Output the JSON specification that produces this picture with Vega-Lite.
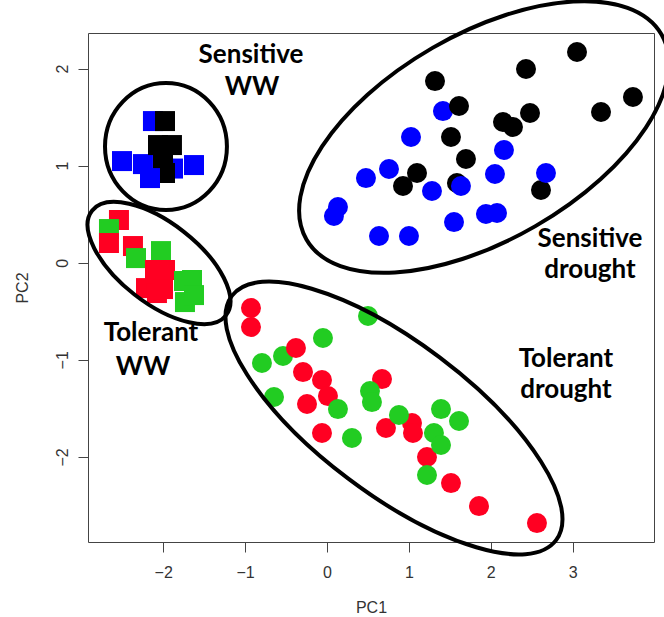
{
  "$schema": "https://vega.github.io/schema/vega-lite/v6.json",
  "width": 566,
  "height": 509,
  "autosize": {"type": "none"},
  "padding": {"left": 88, "top": 33, "right": 10, "bottom": 75},
  "background": "white",
  "config": {"view": {"stroke": "#444", "strokeWidth": 1}, "font": "Liberation Sans"},
  "datasets": {
    "pts": [
      {"pc1": -2.125, "pc2": 1.459, "geno": "S1", "trt": "WW"},
      {"pc1": -1.978, "pc2": 1.459, "geno": "S2", "trt": "WW"},
      {"pc1": -2.503, "pc2": 1.047, "geno": "S1", "trt": "WW"},
      {"pc1": -2.247, "pc2": 1.016, "geno": "S1", "trt": "WW"},
      {"pc1": -1.880, "pc2": 0.970, "geno": "S1", "trt": "WW"},
      {"pc1": -1.624, "pc2": 1.006, "geno": "S1", "trt": "WW"},
      {"pc1": -2.063, "pc2": 1.212, "geno": "S2", "trt": "WW"},
      {"pc1": -1.893, "pc2": 1.212, "geno": "S2", "trt": "WW"},
      {"pc1": -2.002, "pc2": 1.058, "geno": "S2", "trt": "WW"},
      {"pc1": -1.978, "pc2": 0.924, "geno": "S2", "trt": "WW"},
      {"pc1": -2.161, "pc2": 0.872, "geno": "S1", "trt": "WW"},

      {"pc1": -2.540, "pc2": 0.440, "geno": "T1", "trt": "WW"},
      {"pc1": -2.662, "pc2": 0.347, "geno": "T2", "trt": "WW"},
      {"pc1": -2.662, "pc2": 0.203, "geno": "T1", "trt": "WW"},
      {"pc1": -2.369, "pc2": 0.172, "geno": "T1", "trt": "WW"},
      {"pc1": -2.332, "pc2": 0.048, "geno": "T2", "trt": "WW"},
      {"pc1": -2.027, "pc2": 0.120, "geno": "T2", "trt": "WW"},
      {"pc1": -2.100, "pc2": -0.075, "geno": "T1", "trt": "WW"},
      {"pc1": -1.978, "pc2": -0.075, "geno": "T1", "trt": "WW"},
      {"pc1": -2.210, "pc2": -0.261, "geno": "T1", "trt": "WW"},
      {"pc1": -2.076, "pc2": -0.312, "geno": "T1", "trt": "WW"},
      {"pc1": -2.002, "pc2": -0.271, "geno": "T1", "trt": "WW"},
      {"pc1": -1.746, "pc2": -0.188, "geno": "T2", "trt": "WW"},
      {"pc1": -1.648, "pc2": -0.178, "geno": "T2", "trt": "WW"},
      {"pc1": -1.734, "pc2": -0.405, "geno": "T2", "trt": "WW"},
      {"pc1": -1.624, "pc2": -0.333, "geno": "T2", "trt": "WW"},

      {"pc1": 1.416, "pc2": 1.562, "geno": "S1", "trt": "drought"},
      {"pc1": 1.026, "pc2": 1.295, "geno": "S1", "trt": "drought"},
      {"pc1": 2.161, "pc2": 1.161, "geno": "S1", "trt": "drought"},
      {"pc1": 0.757, "pc2": 0.965, "geno": "S1", "trt": "drought"},
      {"pc1": 0.476, "pc2": 0.872, "geno": "S1", "trt": "drought"},
      {"pc1": 1.282, "pc2": 0.739, "geno": "S1", "trt": "drought"},
      {"pc1": 2.051, "pc2": 0.914, "geno": "S1", "trt": "drought"},
      {"pc1": 0.134, "pc2": 0.574, "geno": "S1", "trt": "drought"},
      {"pc1": 0.085, "pc2": 0.481, "geno": "S1", "trt": "drought"},
      {"pc1": 1.551, "pc2": 0.419, "geno": "S1", "trt": "drought"},
      {"pc1": 1.941, "pc2": 0.502, "geno": "S1", "trt": "drought"},
      {"pc1": 2.076, "pc2": 0.512, "geno": "S1", "trt": "drought"},
      {"pc1": 0.635, "pc2": 0.275, "geno": "S1", "trt": "drought"},
      {"pc1": 1.001, "pc2": 0.275, "geno": "S1", "trt": "drought"},
      {"pc1": 1.319, "pc2": 1.871, "geno": "S2", "trt": "drought"},
      {"pc1": 3.053, "pc2": 2.170, "geno": "S2", "trt": "drought"},
      {"pc1": 2.430, "pc2": 1.995, "geno": "S2", "trt": "drought"},
      {"pc1": 3.736, "pc2": 1.707, "geno": "S2", "trt": "drought"},
      {"pc1": 3.346, "pc2": 1.552, "geno": "S2", "trt": "drought"},
      {"pc1": 1.612, "pc2": 1.614, "geno": "S2", "trt": "drought"},
      {"pc1": 2.479, "pc2": 1.542, "geno": "S2", "trt": "drought"},
      {"pc1": 2.149, "pc2": 1.449, "geno": "S2", "trt": "drought"},
      {"pc1": 2.271, "pc2": 1.398, "geno": "S2", "trt": "drought"},
      {"pc1": 1.514, "pc2": 1.295, "geno": "S2", "trt": "drought"},
      {"pc1": 1.697, "pc2": 1.068, "geno": "S2", "trt": "drought"},
      {"pc1": 0.928, "pc2": 0.790, "geno": "S2", "trt": "drought"},
      {"pc1": 1.099, "pc2": 0.924, "geno": "S2", "trt": "drought"},
      {"pc1": 1.587, "pc2": 0.821, "geno": "S2", "trt": "drought"},
      {"pc1": 2.613, "pc2": 0.749, "geno": "S2", "trt": "drought"},
      {"pc1": 2.674, "pc2": 0.924, "geno": "S1", "trt": "drought"},
      {"pc1": 1.636, "pc2": 0.790, "geno": "S1", "trt": "drought"},

      {"pc1": -0.928, "pc2": -0.466, "geno": "T1", "trt": "drought"},
      {"pc1": -0.928, "pc2": -0.662, "geno": "T1", "trt": "drought"},
      {"pc1": -0.293, "pc2": -1.126, "geno": "T1", "trt": "drought"},
      {"pc1": -0.061, "pc2": -1.208, "geno": "T1", "trt": "drought"},
      {"pc1": 0.012, "pc2": -1.373, "geno": "T1", "trt": "drought"},
      {"pc1": -0.244, "pc2": -1.455, "geno": "T1", "trt": "drought"},
      {"pc1": 0.672, "pc2": -1.198, "geno": "T1", "trt": "drought"},
      {"pc1": -0.061, "pc2": -1.754, "geno": "T1", "trt": "drought"},
      {"pc1": 0.720, "pc2": -1.702, "geno": "T1", "trt": "drought"},
      {"pc1": 1.038, "pc2": -1.651, "geno": "T1", "trt": "drought"},
      {"pc1": 1.050, "pc2": -1.754, "geno": "T1", "trt": "drought"},
      {"pc1": 1.221, "pc2": -2.001, "geno": "T1", "trt": "drought"},
      {"pc1": 1.514, "pc2": -2.269, "geno": "T1", "trt": "drought"},
      {"pc1": 1.856, "pc2": -2.506, "geno": "T1", "trt": "drought"},
      {"pc1": 2.564, "pc2": -2.681, "geno": "T1", "trt": "drought"},
      {"pc1": 0.501, "pc2": -0.549, "geno": "T2", "trt": "drought"},
      {"pc1": -0.049, "pc2": -0.775, "geno": "T2", "trt": "drought"},
      {"pc1": -0.794, "pc2": -1.033, "geno": "T2", "trt": "drought"},
      {"pc1": -0.537, "pc2": -0.961, "geno": "T2", "trt": "drought"},
      {"pc1": -0.647, "pc2": -1.383, "geno": "T2", "trt": "drought"},
      {"pc1": 0.134, "pc2": -1.507, "geno": "T2", "trt": "drought"},
      {"pc1": 0.525, "pc2": -1.321, "geno": "T2", "trt": "drought"},
      {"pc1": 0.549, "pc2": -1.435, "geno": "T2", "trt": "drought"},
      {"pc1": 0.879, "pc2": -1.568, "geno": "T2", "trt": "drought"},
      {"pc1": 0.305, "pc2": -1.805, "geno": "T2", "trt": "drought"},
      {"pc1": 1.392, "pc2": -1.507, "geno": "T2", "trt": "drought"},
      {"pc1": 1.612, "pc2": -1.630, "geno": "T2", "trt": "drought"},
      {"pc1": 1.306, "pc2": -1.754, "geno": "T2", "trt": "drought"},
      {"pc1": 1.392, "pc2": -1.877, "geno": "T2", "trt": "drought"},
      {"pc1": 1.221, "pc2": -2.186, "geno": "T2", "trt": "drought"},
      {"pc1": -0.379, "pc2": -0.878, "geno": "T1", "trt": "drought"}
    ],
    "ellipses": [
      {"name": "sensWW", "pc1": -1.966, "pc2": 1.197},
      {"name": "tolWW", "pc1": -2.051, "pc2": -0.003},
      {"name": "sensDr", "pc1": 1.917, "pc2": 1.295},
      {"name": "tolDr", "pc1": 0.818, "pc2": -1.599}
    ],
    "labels": [
      {"label": "Sensitive", "pc1": -0.928, "pc2": 2.057},
      {"label": "WW", "pc1": -0.916, "pc2": 1.727},
      {"label": "Tolerant", "pc1": -2.149, "pc2": -0.807},
      {"label": "WW", "pc1": -2.247, "pc2": -1.157},
      {"label": "Sensitive", "pc1": 3.211, "pc2": 0.162},
      {"label": "drought", "pc1": 3.211, "pc2": -0.158},
      {"label": "Tolerant", "pc1": 2.918, "pc2": -1.074},
      {"label": "drought", "pc1": 2.918, "pc2": -1.393}
    ]
  },
  "encoding": {
    "x": {
      "field": "pc1", "type": "quantitative",
      "scale": {"domain": [-2.918, 3.993], "nice": false, "zero": false},
      "axis": {
        "title": "PC1", "values": [-2, -1, 0, 1, 2, 3], "grid": false, "domain": false,
        "tickSize": 10, "tickColor": "#444", "tickWidth": 1,
        "labelFont": "Liberation Sans", "labelFontSize": 16, "labelColor": "#333",
        "labelPadding": 12, "labelBaseline": "top", "labelFlush": false, "labelOverlap": false,
        "titleFont": "Liberation Sans", "titleFontSize": 16, "titleFontWeight": "normal", "titleColor": "#333",
        "titleX": 283, "titleY": 70, "titleAlign": "center", "titleBaseline": "alphabetic"
      }
    },
    "y": {
      "field": "pc2", "type": "quantitative",
      "scale": {"domain": [-2.876, 2.366], "nice": false, "zero": false},
      "axis": {
        "title": "PC2", "values": [-2, -1, 0, 1, 2], "grid": false, "domain": false,
        "tickSize": 10, "tickColor": "#444", "tickWidth": 1,
        "labelFont": "Liberation Sans", "labelFontSize": 16, "labelColor": "#333",
        "labelAngle": 270, "labelAlign": "center", "labelBaseline": "alphabetic", "labelPadding": 11,
        "labelFlush": false, "labelOverlap": false,
        "titleFont": "Liberation Sans", "titleFontSize": 16, "titleFontWeight": "normal", "titleColor": "#333",
        "titleAngle": 270, "titleX": -61, "titleY": 254.5, "titleAlign": "center", "titleBaseline": "alphabetic"
      }
    }
  },
  "layer": [
    {
      "data": {"name": "pts"},
      "mark": {"type": "point", "filled": true, "size": 400, "opacity": 1, "strokeWidth": 0},
      "encoding": {
        "color": {"field": "geno", "type": "nominal", "scale": {"domain": ["S1", "S2", "T1", "T2"], "range": ["#0000FF", "#000000", "#FF0022", "#22CC22"]}, "legend": null},
        "shape": {"field": "trt", "type": "nominal", "scale": {"domain": ["WW", "drought"], "range": ["square", "circle"]}, "legend": null}
      }
    },
    {
      "data": {"name": "ellipses"},
      "transform": [{"filter": "datum.name == 'sensWW'"}],
      "mark": {"type": "point", "shape": "M1,0C1,0.53 0.552,0.96 0,0.96C-0.552,0.96 -1,0.53 -1,0C-1,-0.53 -0.552,-0.96 0,-0.96C0.552,-0.96 1,-0.53 1,0Z", "size": 16129, "angle": 90, "filled": false, "stroke": "#000000", "strokeWidth": 4, "opacity": 1}
    },
    {
      "data": {"name": "ellipses"},
      "transform": [{"filter": "datum.name == 'tolWW'"}],
      "mark": {"type": "point", "shape": "M1,0C1,0.26 0.552,0.47 0,0.47C-0.552,0.47 -1,0.26 -1,0C-1,-0.26 -0.552,-0.47 0,-0.47C0.552,-0.47 1,-0.26 1,0Z", "size": 28900, "angle": 38, "filled": false, "stroke": "#000000", "strokeWidth": 4, "opacity": 1}
    },
    {
      "data": {"name": "ellipses"},
      "transform": [{"filter": "datum.name == 'sensDr'"}],
      "mark": {"type": "point", "shape": "M1,0C1,0.277 0.552,0.502 0,0.502C-0.552,0.502 -1,0.277 -1,0C-1,-0.277 -0.552,-0.502 0,-0.502C0.552,-0.502 1,-0.277 1,0Z", "size": 168100, "angle": -30, "filled": false, "stroke": "#000000", "strokeWidth": 4, "opacity": 1}
    },
    {
      "data": {"name": "ellipses"},
      "transform": [{"filter": "datum.name == 'tolDr'"}],
      "mark": {"type": "point", "shape": "M1,0C1,0.207 0.552,0.374 0,0.374C-0.552,0.374 -1,0.207 -1,0C-1,-0.207 -0.552,-0.374 0,-0.374C0.552,-0.374 1,-0.207 1,0Z", "size": 164836, "angle": 37, "filled": false, "stroke": "#000000", "strokeWidth": 4, "opacity": 1}
    },
    {
      "data": {"name": "labels"},
      "mark": {"type": "text", "font": "Lato", "fontWeight": "bold", "fontSize": 26, "align": "center", "baseline": "alphabetic", "color": "#000000"},
      "encoding": {"text": {"field": "label", "type": "nominal"}}
    }
  ]
}
